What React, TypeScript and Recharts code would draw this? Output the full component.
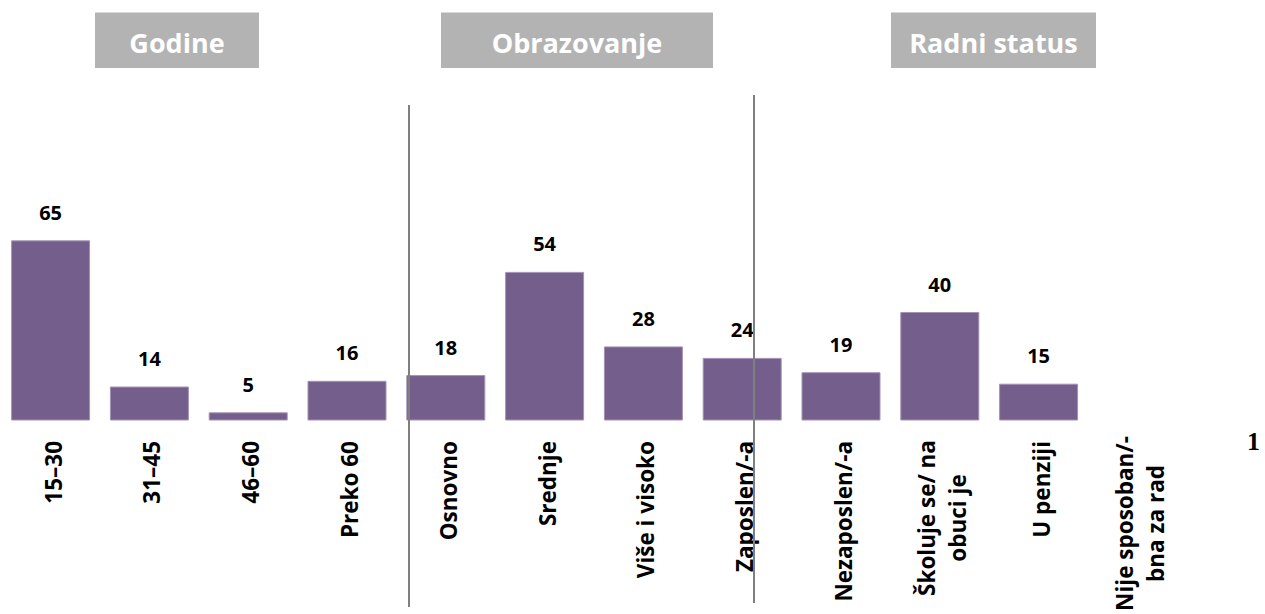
import React from 'react'
import { BarChart, Bar, XAxis, YAxis, LabelList } from 'recharts'

const categories = [
  '15–30',
  '31–45',
  '46–60',
  'Preko 60',
  'Osnovno',
  'Srednje',
  'Više i visoko',
  'Zaposlen/-a',
  'Nezaposlen/-a',
  'Školuje se/ na\nobuci je',
  'U penziji',
  'Nije sposoban/-\nbna za rad',
]

const values = [65, 14, 5, 16, 18, 54, 28, 24, 19, 40, 15, null]

const groups = [
  { title: 'Godine', x: 95, w: 164 },
  { title: 'Obrazovanje', x: 441, w: 272 },
  { title: 'Radni status', x: 891, w: 205 },
]

const dividers = [
  { x: 409, y1: 105, y2: 607 },
  { x: 754, y1: 95, y2: 603 },
]

const data = categories.map((name, i) => ({ name, value: values[i] }))

const FONT = '"Open Sans", Lato, sans-serif'
const LABEL_TOP = 441

function CategoryTick(props: any) {
  const { x, payload } = props
  const lines: string[] = String(payload.value).split('\n')
  if (lines.length === 1) {
    return (
      <text
        transform={`translate(${x + 10.5},${LABEL_TOP}) rotate(-90)`}
        textAnchor="end"
        fontFamily={FONT}
        fontWeight={700}
        fontSize={22.5}
        fill="#000"
      >
        {lines[0]}
      </text>
    )
  }
  const longest = Math.max(...lines.map((l) => l.length))
  const mid = LABEL_TOP + (longest * 11) / 2
  return (
    <g>
      {lines.map((line, i) => (
        <text
          key={i}
          transform={`translate(${x - 5 + i * 31},${mid}) rotate(-90)`}
          textAnchor="middle"
          fontFamily={FONT}
          fontWeight={700}
          fontSize={22.5}
          fill="#000"
        >
          {line}
        </text>
      ))}
    </g>
  )
}

export default function App() {
  return (
    <div style={{ position: 'absolute', left: 0, top: 0, width: 1265, height: 614, background: '#fff' }}>
      <BarChart
        width={1265}
        height={614}
        data={data}
        margin={{ top: 212.2, right: 77.8, left: 1.6, bottom: 0 }}
      >
        <XAxis
          dataKey="name"
          height={194}
          axisLine={false}
          tickLine={false}
          interval={0}
          tick={<CategoryTick />}
        />
        <YAxis hide domain={[2.5, 75]} />
        <Bar
          dataKey="value"
          fill="#745e8b"
          stroke="#a393b6"
          strokeWidth={1}
          barSize={78}
          isAnimationActive={false}
        >
          <LabelList
            dataKey="value"
            position="top"
            offset={21}
            fontFamily={FONT}
            fontWeight={700}
            fontSize={20}
            fill="#000"
          />
        </Bar>
      </BarChart>
      <svg
        width={1265}
        height={614}
        style={{ position: 'absolute', left: 0, top: 0, pointerEvents: 'none' }}
      >
        {groups.map((g) => (
          <g key={g.title}>
            <rect x={g.x} y={12.5} width={g.w} height={55.5} fill="#b3b3b3" />
            <text
              x={g.x + g.w / 2}
              y={52.5}
              textAnchor="middle"
              fontFamily={FONT}
              fontWeight={700}
              fontSize={27}
              fill="#fff"
            >
              {g.title}
            </text>
          </g>
        ))}
        {dividers.map((d) => (
          <line key={d.x} x1={d.x} x2={d.x} y1={d.y1} y2={d.y2} stroke="#7f7f7f" strokeWidth={2} />
        ))}
        <text
          x={1253.5}
          y={450}
          textAnchor="middle"
          fontFamily='"Liberation Serif", "DejaVu Serif", serif'
          fontWeight={700}
          fontSize={26}
          fill="#000"
        >
          1
        </text>
      </svg>
    </div>
  )
}
